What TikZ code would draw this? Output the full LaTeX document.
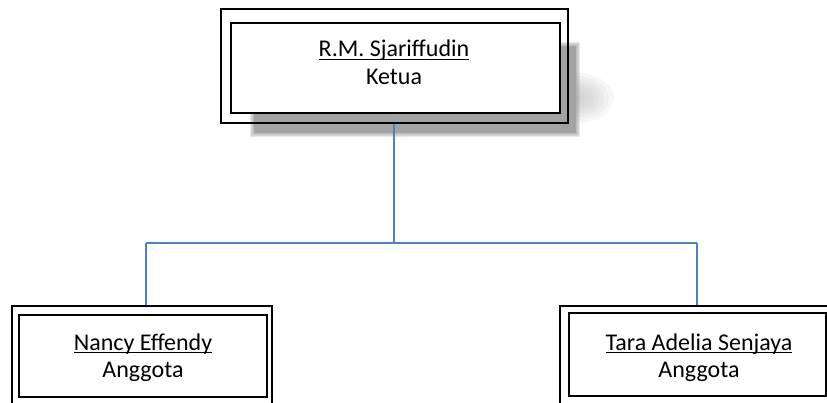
\documentclass[tikz,border=0pt]{standalone}
\usepackage{fontspec}
\setmainfont{Carlito}
\definecolor{linkblue}{HTML}{4F81BD}
\definecolor{shadowgray}{HTML}{A3A3A3}
\newcommand\myul[1]{\leavevmode\setbox0\hbox{#1}\rlap{\rule[-3pt]{\wd0}{1.4pt}}\box0}
\begin{document}
\begin{tikzpicture}[x=1pt,y=-1pt,
  outerbox/.style={draw=black, line width=2pt, inner sep=0pt, fill=none},
  innerbox/.style={draw=black, line width=2pt, inner sep=0pt, fill=white},
  label/.style={anchor=base, inner sep=0pt, font=\fontsize{24}{29}\selectfont},
  conn/.style={draw=linkblue, line width=2pt}]
\useasboundingbox (0,0) rectangle (827,403);
\clip (0,0) rectangle (827,403);
\fill[white] (0,0) rectangle (827,403);
% shadow of the top box
\foreach \r in {1,...,8} {
  \fill[shadowgray, opacity=0.08] (574,98) ellipse [x radius=5*\r, y radius=3.2*\r];
}
\foreach \i in {4,3,2,1} {
  \fill[shadowgray, opacity=0.25] (254-\i,46-\i) rectangle (576+\i,133+\i);
}
\fill[shadowgray] (254,46) rectangle (576,133);
% boxes
\node[outerbox, minimum width=347pt, minimum height=114pt] (topout) at (394.5,66) {};
\node[innerbox, minimum width=329pt, minimum height=90pt] (topin) at (395.5,68) {};
\node[outerbox, minimum width=260pt, minimum height=104pt] (leftout) at (142,358) {};
\node[innerbox, minimum width=248pt, minimum height=82pt] (leftin) at (143,356) {};
\node[outerbox, minimum width=280pt, minimum height=104pt] (rightout) at (700,358) {};
\node[innerbox, minimum width=257pt, minimum height=83pt] (rightin) at (697.5,354.5) {};
% texts
\node[label] (t1) at (394,57) {\myul{R.M. Sjariffudin}};
\node[label] (t2) at (394,85) {Ketua};
\node[label] (l1) at (143,350) {\myul{Nancy Effendy}};
\node[label] (l2) at (143,377) {Anggota};
\node[label] (r1) at (699,350) {\myul{Tara Adelia Senjaya}};
\node[label] (r2) at (699,377) {Anggota};
% connectors
\coordinate (busM) at (394,243);
\coordinate (busL) at (146,243);
\coordinate (busR) at (697,243);
\draw[conn] (topout.south -| busM) -- (busM);
\draw[conn] (busL) -- (busR);
\draw[conn] (busL) -- (busL |- leftout.north);
\draw[conn] (busR) -- (busR |- rightout.north);
\end{tikzpicture}
\end{document}
